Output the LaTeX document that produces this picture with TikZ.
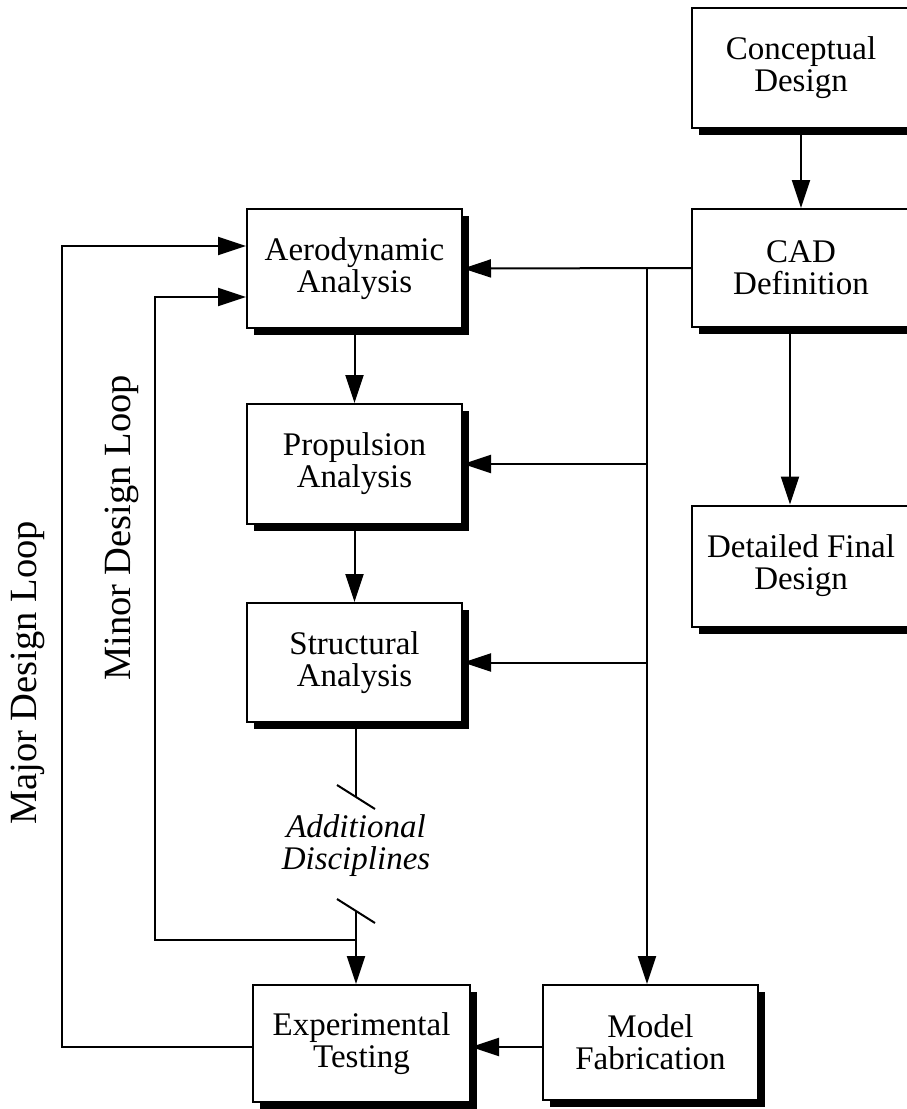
\documentclass[tikz,border=0pt]{standalone}
\usepackage{fontspec}
\setmainfont{Liberation Serif}
\usetikzlibrary{arrows.meta,shadows}
\begin{document}
\begin{tikzpicture}[x=1pt,y=-1pt,
  blk/.style={draw,line width=2pt,fill=white,align=center,inner sep=0pt,
    font=\fontsize{33}{32}\selectfont,
    drop shadow={shadow xshift=7pt,shadow yshift=-7pt,fill=black,opacity=1}},
  ln/.style={line width=2pt},
  arr/.style={ln,-{Triangle[length=28pt,width=18pt]}},
  lbl/.style={font=\fontsize{38.5}{38}\selectfont,inner sep=0pt},
  ]
\useasboundingbox (0,0) rectangle (907,1109);
\clip (0,0) rectangle (907,1109);

% boxes
\node[blk,minimum width=218pt,minimum height=120pt] (concept) at (801,68) {Conceptual\\Design};
\node[blk,minimum width=218pt,minimum height=118pt] (cad) at (801,268) {CAD\\Definition};
\node[blk,minimum width=218pt,minimum height=121pt] (detail) at (801,566) {Detailed Final\\Design};
\node[blk,minimum width=215pt,minimum height=119pt] (aero) at (354.5,268.5) {Aerodynamic\\Analysis};
\node[blk,minimum width=215pt,minimum height=120pt] (prop) at (354.5,464) {Propulsion\\Analysis};
\node[blk,minimum width=215pt,minimum height=119pt] (struct) at (354.5,662.5) {Structural\\Analysis};
\node[blk,minimum width=217pt,minimum height=117pt] (exp) at (361.5,1043.5) {Experimental\\Testing};
\node[blk,minimum width=215pt,minimum height=115pt] (model) at (650.5,1042.5) {Model\\Fabrication};

% helper coordinates
\coordinate (cx) at (790,0);
\coordinate (busT) at (647,268);
\coordinate (s1) at (356,797);
\coordinate (s2) at (356,911);
\coordinate (minB) at (356,940);
\coordinate (minC) at (155,940);
\coordinate (minD) at (155,297);
\coordinate (majY) at (0,1047);
\coordinate (majB) at (62,1047);
\coordinate (majC) at (62,246);

% right column
\draw[arr] (concept.south) -- (cad.north);
\draw[arr] (cad.south -| cx) -- (detail.north -| cx);

% CAD bus
\draw[arr] (cad.west) -- (aero.east);
\draw[arr] (busT) -- (model.north -| busT);
\draw[arr] (busT |- prop.east) -- (prop.east);
\draw[arr] (busT |- struct.east) -- (struct.east);

% analysis chain
\draw[arr] (aero.south) -- (prop.north);
\draw[arr] (prop.south) -- (struct.north);
\draw[ln] (struct.south -| s1) -- (s1);
\draw[ln] (s1) ++(-19,-12) -- ++(38,24);
\node[font=\fontsize{33}{32}\selectfont\itshape,align=center,inner sep=0pt] (add) at (356,846) {Additional\\Disciplines};
\draw[ln] (s2) ++(-19,-12) -- ++(38,24);
\draw[arr] (s2) -- (exp.north -| s2);

% minor loop
\draw[arr] (minB) -- (minC) -- (minD) -- (aero.west |- minD);
% major loop
\draw[arr] (exp.west |- majY) -- (majB) -- (majC) -- (aero.west |- majC);
% model -> experimental
\draw[arr] (model.west |- majY) -- (exp.east |- majY);

% loop labels
\node[lbl,rotate=90] (majl) at (28,673) {Major Design Loop};
\node[lbl,rotate=90] (minl) at (122,528) {Minor Design Loop};
\end{tikzpicture}
\end{document}
